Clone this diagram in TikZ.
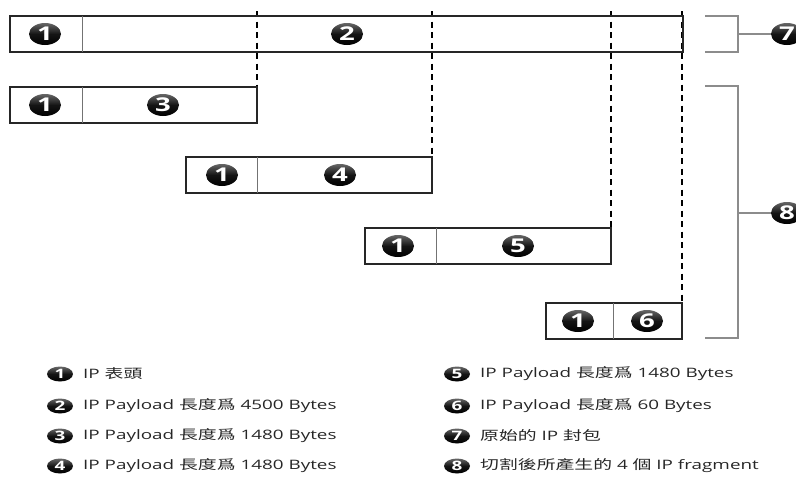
\documentclass[tikz,border=0pt]{standalone}
\usepackage{fontspec}
\setmainfont{Open Sans}
\newfontfamily\cjk{Noto Sans CJK TC}
\usetikzlibrary{shapes.geometric}
\newcommand\hs[1]{\scalebox{1.45}[1]{#1}}
\tikzset{
  cell/.style={rectangle, draw=none, inner sep=0pt, outer sep=0pt},
  boxline/.style={draw=black!85, line width=1.4pt},
  divline/.style={draw=black!55, line width=0.9pt},
  dashline/.style={draw=black, line width=2.2pt, dash pattern=on 6pt off 4.5pt},
  brack/.style={draw=black!45, line width=1.2pt},
  badge/.style={ellipse, shade, top color=black!60, bottom color=black, middle color=black!92,
    text=white, minimum width=32pt, minimum height=22pt, inner sep=0pt,
    font=\fontsize{19}{19}\selectfont\bfseries},
  lbadge/.style={ellipse, shade, top color=black!60, bottom color=black, middle color=black!92,
    text=white, minimum width=26pt, minimum height=15pt, inner sep=0pt,
    font=\fontsize{13}{13}\selectfont\bfseries},
  legend/.style={anchor=west, inner sep=0pt, font=\fontsize{13}{15}\selectfont, text=black!85},
}
\begin{document}
\begin{tikzpicture}[x=1pt,y=-1pt]
\useasboundingbox (0,0) rectangle (796,477);
% row 0: original packet
\node[cell, minimum width=72pt, minimum height=36pt] (h0) at (46,34) {};
\node[cell, minimum width=601pt, minimum height=36pt] (p0) at (382.5,34) {};
% row 1
\node[cell, minimum width=72pt, minimum height=36pt] (h1) at (46,105) {};
\node[cell, minimum width=175pt, minimum height=36pt] (p1) at (169.5,105) {};
% row 2
\node[cell, minimum width=71pt, minimum height=36pt] (h2) at (221.5,175) {};
\node[cell, minimum width=175pt, minimum height=36pt] (p2) at (344.5,175) {};
% row 3
\node[cell, minimum width=71pt, minimum height=36pt] (h3) at (400.5,246) {};
\node[cell, minimum width=175pt, minimum height=36pt] (p3) at (523.5,246) {};
% row 4
\node[cell, minimum width=67pt, minimum height=36pt] (h4) at (579.5,321) {};
\node[cell, minimum width=69pt, minimum height=36pt] (p4) at (647.5,321) {};

% dashed guide lines
\coordinate (d1) at (257,11);
\coordinate (d2) at (432,11);
\coordinate (d3) at (611,11);
\coordinate (d4) at (682,11);
\draw[dashline] (d1) -- (p1.north east);
\draw[dashline] (d2) -- (p2.north east);
\draw[dashline] (d3) -- (p3.north east);
\draw[dashline] (d4) -- (p4.north east);

% outlines and dividers
\foreach \i in {0,...,4}{
  \draw[boxline] (h\i.north west) rectangle (p\i.south east);
  \draw[divline] (p\i.north west) -- (p\i.south west);
}

% badges in boxes
\node[badge] (b01) at (45,34) {\hs{1}};
\node[badge] (b02) at (347,34) {\hs{2}};
\node[badge] (b11) at (45,105) {\hs{1}};
\node[badge] (b13) at (163,105) {\hs{3}};
\node[badge] (b21) at (222,175) {\hs{1}};
\node[badge] (b24) at (340,175) {\hs{4}};
\node[badge] (b31) at (398,246) {\hs{1}};
\node[badge] (b35) at (518,246) {\hs{5}};
\node[badge] (b41) at (578,321) {\hs{1}};
\node[badge] (b46) at (647,321) {\hs{6}};

% brackets
\node[badge] (b7) at (787,34) {\hs{7}};
\node[badge] (b8) at (787,213) {\hs{8}};
\coordinate (k7a) at (705,16);
\coordinate (k7b) at (705,52);
\coordinate (k7m) at (738,34);
\coordinate (k8a) at (705,86);
\coordinate (k8b) at (705,338);
\coordinate (k8m) at (738,213);
\draw[brack] (k7a) -| (k7m) |- (k7b);
\draw[brack] (k7m) -- (b7.west);
\draw[brack] (k8a) -| (k8m) |- (k8b);
\draw[brack] (k8m) -- (b8.west);

% legend
\node[lbadge] (l1) at (60,374) {\hs{1}};
\node[lbadge] (l2) at (60,406) {\hs{2}};
\node[lbadge] (l3) at (60,436) {\hs{3}};
\node[lbadge] (l4) at (60,466) {\hs{4}};
\node[lbadge] (l5) at (457,374) {\hs{5}};
\node[lbadge] (l6) at (457,406) {\hs{6}};
\node[lbadge] (l7) at (457,436) {\hs{7}};
\node[lbadge] (l8) at (457,466) {\hs{8}};
\node[legend] (t1) at (83,374) {\hs{IP {\cjk 表頭}}};
\node[legend] (t2) at (83,406) {\hs{IP Payload {\cjk 長度爲} 4500 Bytes}};
\node[legend] (t3) at (83,436) {\hs{IP Payload {\cjk 長度爲} 1480 Bytes}};
\node[legend] (t4) at (83,466) {\hs{IP Payload {\cjk 長度爲} 1480 Bytes}};
\node[legend] (t5) at (480,374) {\hs{IP Payload {\cjk 長度爲} 1480 Bytes}};
\node[legend] (t6) at (480,406) {\hs{IP Payload {\cjk 長度爲} 60 Bytes}};
\node[legend] (t7) at (480,436) {\hs{{\cjk 原始的} IP {\cjk 封包}}};
\node[legend] (t8) at (480,466) {\hs{{\cjk 切割後所產生的} 4 {\cjk 個} IP fragment}};
\end{tikzpicture}
\end{document}
